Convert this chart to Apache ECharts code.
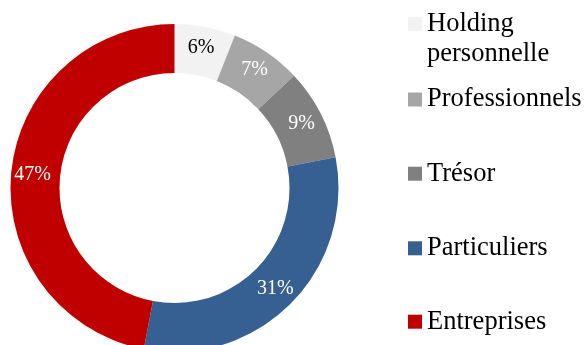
<!DOCTYPE html>
<html>
<head>
<meta charset="utf-8">
<script src="https://cdn.jsdelivr.net/npm/echarts@6/dist/echarts.min.js"></script>
<style>
  html, body { margin: 0; padding: 0; background: #fff; }
  #chart { width: 584px; height: 345px; }
</style>
</head>
<body>
<div id="chart"></div>
<script>
// Share of each client segment, clockwise from 12 o'clock
const categories = ['Holding personnelle', 'Professionnels', 'Trésor', 'Particuliers', 'Entreprises'];
const shares = [6, 7, 9, 31, 47];
const sliceColors = ['#F2F2F2', '#A6A6A6', '#808080', '#376092', '#C00000'];
const labelColors = ['#000000', '#FFFFFF', '#FFFFFF', '#FFFFFF', '#FFFFFF'];

// Vertical position (px) of each legend row
const legendTops = [-21, 84.5, 158.7, 233.3, 306.7];

const serif = '"Liberation Serif", "Times New Roman", serif';

// The two-line entry gets a blank first line so that "Holding" sits level with its swatch
const legendText = n => (n === 'Holding personnelle' ? ' \nHolding\npersonnelle' : n);

const legends = categories.map((name, i) => ({
  orient: 'vertical',
  left: 408,
  top: legendTops[i],
  padding: 0,
  itemWidth: 14,
  itemHeight: 14,
  icon: 'rect',
  selectedMode: false,
  data: [name],
  formatter: legendText,
  textStyle: {
    fontFamily: serif,
    fontSize: 26.5,
    lineHeight: 30,
    color: '#000'
  }
}));

const chart = echarts.init(document.getElementById('chart'), null, { renderer: 'canvas' });
chart.setOption({
  animation: false,
  legend: legends,
  series: [{
    type: 'pie',
    center: [174.5, 188],
    radius: [115, 164],
    startAngle: 90,
    clockwise: true,
    avoidLabelOverlap: false,
    silent: true,
    itemStyle: { borderWidth: 0 },
    label: {
      show: true,
      position: 'inside',
      formatter: '{c}%',
      fontFamily: serif,
      fontSize: 20
    },
    labelLine: { show: false },
    data: categories.map((name, i) => ({
      name,
      value: shares[i],
      itemStyle: { color: sliceColors[i] },
      label: { color: labelColors[i] }
    }))
  }]
});
</script>
</body>
</html>
